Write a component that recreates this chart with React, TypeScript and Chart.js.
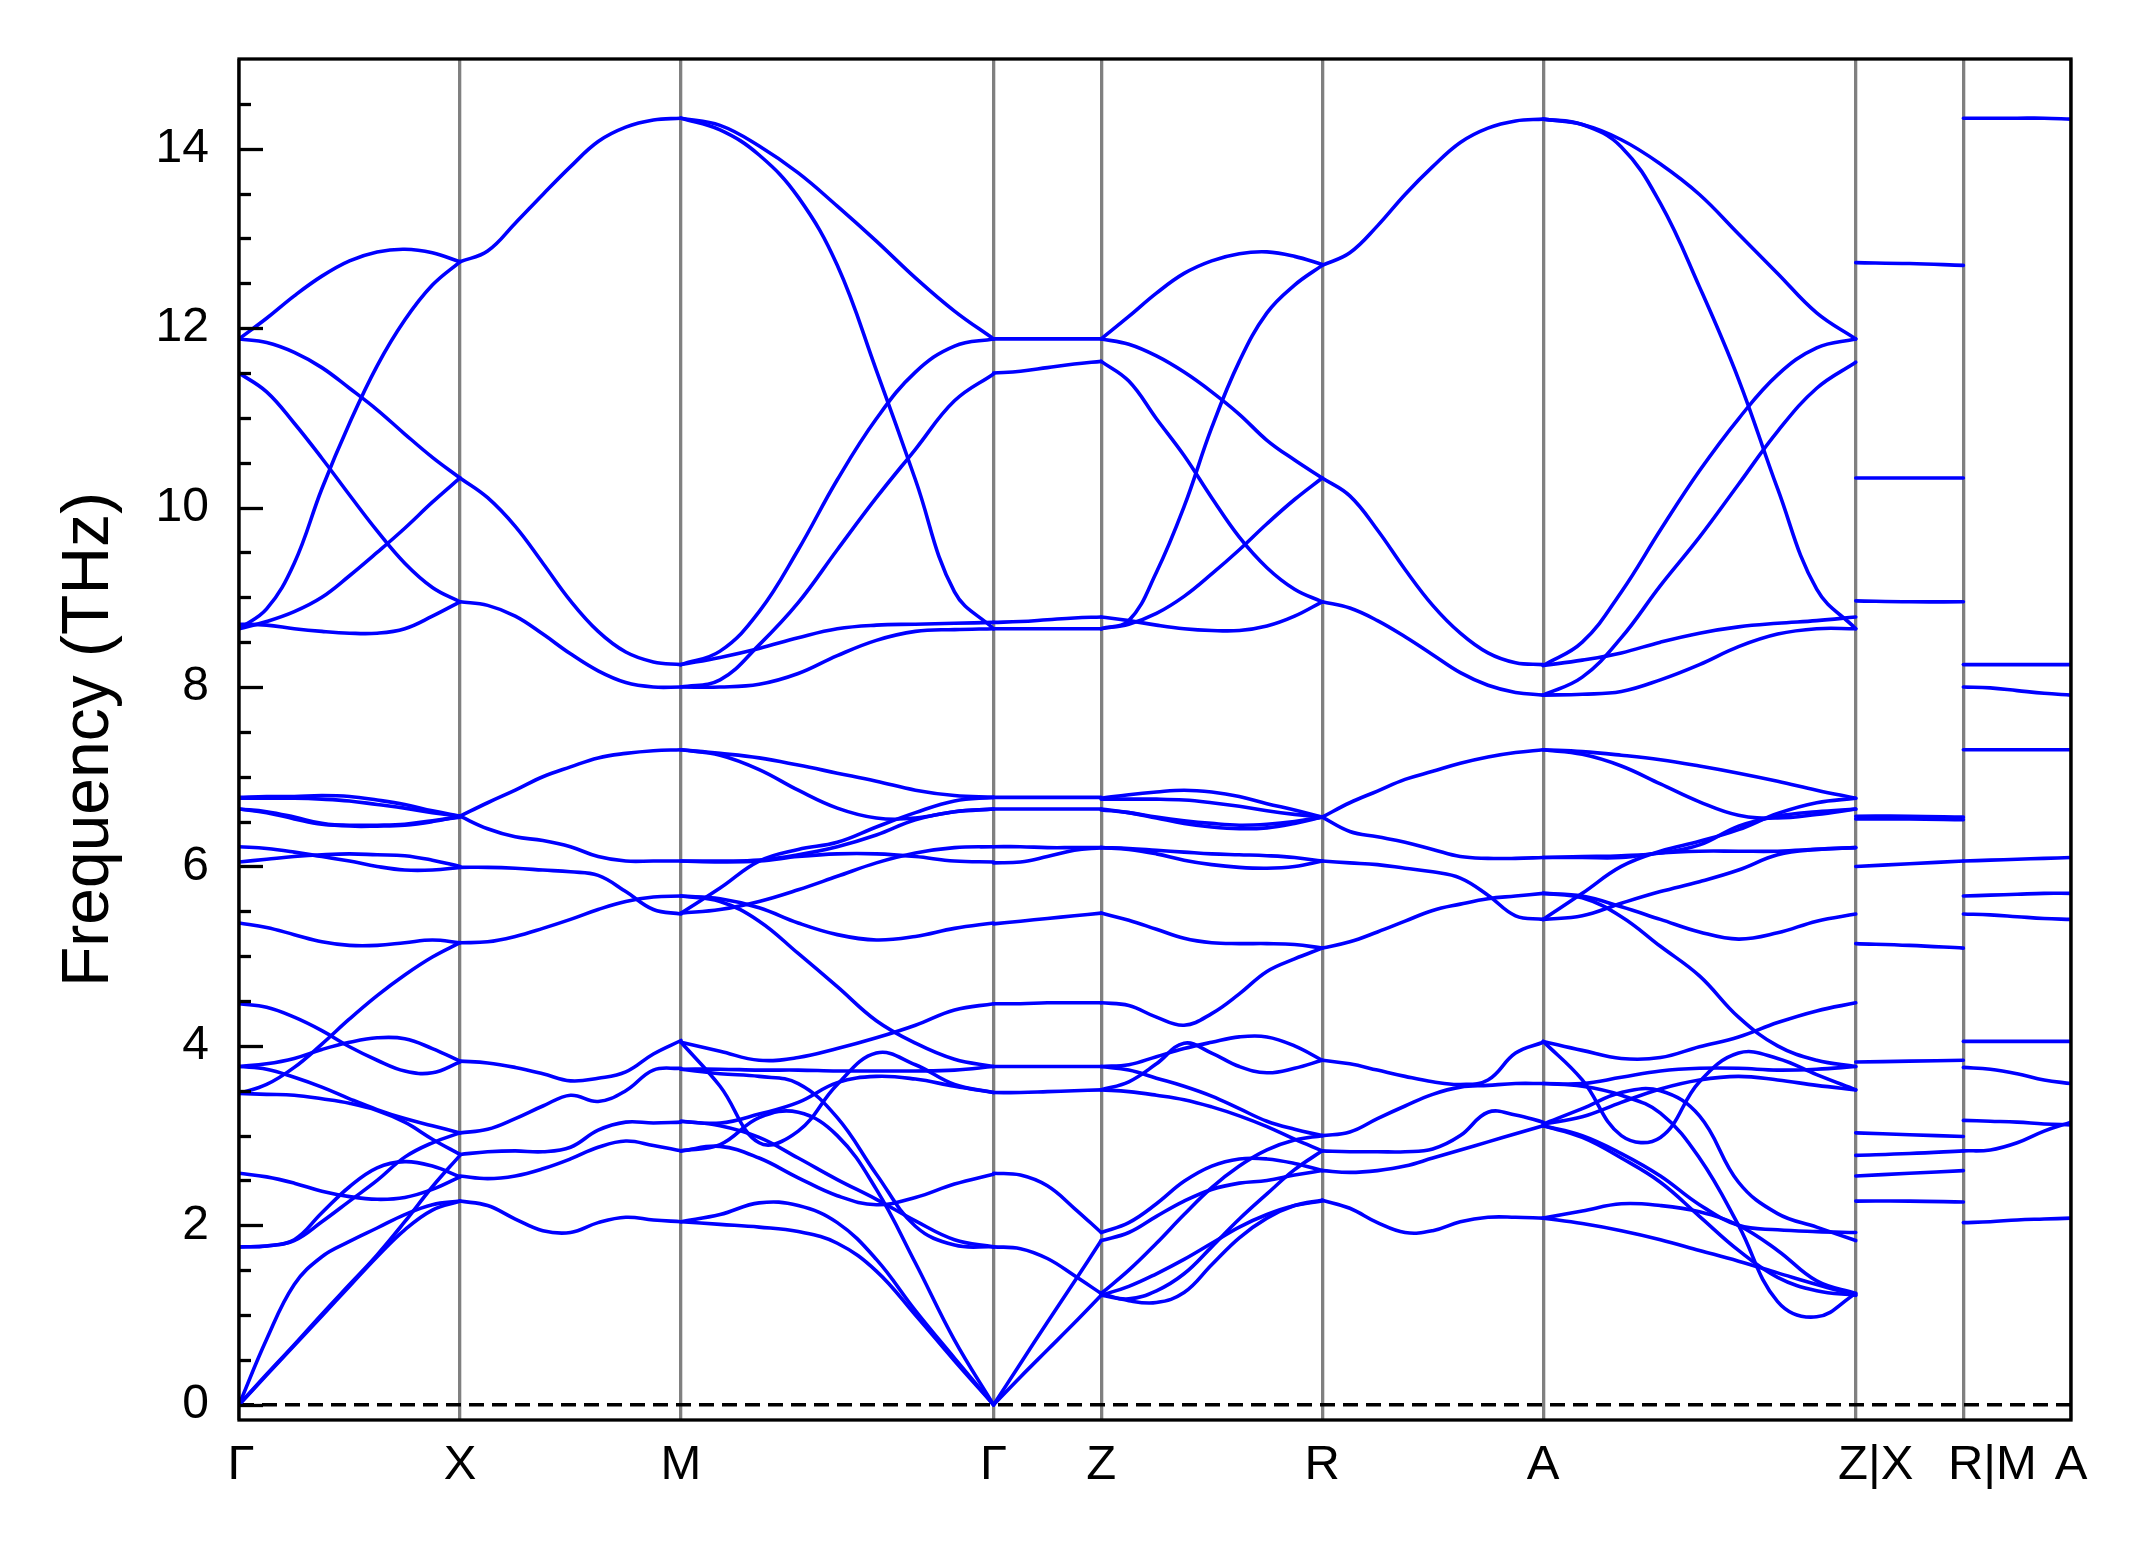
import React, { useEffect, useRef } from 'react';
import { Chart, registerables } from 'chart.js';

Chart.register(...registerables);

// ---------- data ----------
const KPOINT_LABELS = ['Γ', 'X', 'M', 'Γ', 'Z', 'R', 'A', 'Z|X', 'R|M', 'A'];
// path segment lengths (Γ-X, X-M, M-Γ, Γ-Z, Z-R, R-A, A-Z, X-R, M-A)
const SEGMENT_LENGTHS = [1, 1, 1.4142, 0.487, 1, 1, 1.4142, 0.487, 0.487];
const Y_TICKS = [0, 2, 4, 6, 8, 10, 12, 14];
const Y_MIN = -0.17;
const Y_MAX = 15;

// fractional positions along each segment at which frequencies were read
const GRID9 = [0, 0.125, 0.25, 0.375, 0.5, 0.625, 0.75, 0.875, 1];
const GRID5 = [0, 0.25, 0.5, 0.75, 1];
const GRID3 = [0, 0.5, 1];

// frequencies (THz)
const BANDS_GAMMA_X = [
  [11.88, 12.11, 12.36, 12.58, 12.75, 12.85, 12.88, 12.84, 12.74],
  [8.65, 8.87, 9.38, 10.21, 10.94, 11.58, 12.09, 12.48, 12.74],
  [11.88, 11.84, 11.73, 11.56, 11.33, 11.09, 10.82, 10.56, 10.33],
  [11.5, 11.29, 10.94, 10.55, 10.14, 9.74, 9.38, 9.11, 8.95],
  [8.65, 8.73, 8.84, 9.0, 9.24, 9.5, 9.77, 10.06, 10.33],
  [8.7, 8.69, 8.65, 8.62, 8.6, 8.6, 8.65, 8.79, 8.95],
  [6.77, 6.78, 6.78, 6.79, 6.78, 6.74, 6.69, 6.62, 6.56],
  [6.76, 6.76, 6.76, 6.75, 6.73, 6.69, 6.65, 6.6, 6.56],
  [6.64, 6.61, 6.55, 6.48, 6.45, 6.45, 6.46, 6.5, 6.56],
  [6.64, 6.6, 6.53, 6.47, 6.46, 6.46, 6.47, 6.51, 6.55],
  [6.22, 6.2, 6.16, 6.11, 6.06, 6.0, 5.96, 5.96, 5.99],
  [6.05, 6.08, 6.11, 6.13, 6.14, 6.13, 6.12, 6.07, 6.0],
  [5.37, 5.32, 5.24, 5.16, 5.12, 5.12, 5.15, 5.18, 5.15],
  [3.47, 3.57, 3.76, 4.02, 4.3, 4.56, 4.79, 4.99, 5.15],
  [4.47, 4.43, 4.32, 4.17, 3.99, 3.84, 3.72, 3.7, 3.82],
  [3.77, 3.8, 3.86, 3.96, 4.04, 4.09, 4.08, 3.97, 3.83],
  [3.77, 3.74, 3.65, 3.54, 3.41, 3.29, 3.19, 3.11, 3.03],
  [3.47, 3.46, 3.45, 3.41, 3.36, 3.28, 3.15, 2.96, 2.79],
  [2.58, 2.54, 2.47, 2.38, 2.32, 2.29, 2.31, 2.4, 2.54],
  [1.76, 1.77, 1.84, 2.14, 2.43, 2.64, 2.71, 2.66, 2.54],
  [1.76, 1.77, 1.83, 2.04, 2.27, 2.5, 2.76, 2.92, 3.03],
  [0, 0.73, 1.34, 1.65, 1.82, 1.97, 2.12, 2.23, 2.27],
  [0, 0.34, 0.67, 1.01, 1.34, 1.67, 2.04, 2.43, 2.78],
  [0, 0.33, 0.66, 0.99, 1.32, 1.65, 1.95, 2.17, 2.27],
];

const BANDS_X_M = [
  [12.74, 12.86, 13.17, 13.49, 13.8, 14.08, 14.24, 14.32, 14.34],
  [10.33, 10.11, 9.79, 9.38, 8.96, 8.62, 8.39, 8.28, 8.25],
  [8.95, 8.91, 8.79, 8.59, 8.37, 8.18, 8.05, 8.0, 8.0],
  [6.56, 6.71, 6.85, 7.0, 7.11, 7.21, 7.26, 7.29, 7.3],
  [6.56, 6.42, 6.33, 6.29, 6.22, 6.11, 6.06, 6.06, 6.06],
  [5.99, 5.99, 5.98, 5.96, 5.94, 5.9, 5.72, 5.52, 5.47],
  [5.15, 5.16, 5.22, 5.31, 5.41, 5.52, 5.61, 5.66, 5.67],
  [3.83, 3.81, 3.76, 3.69, 3.61, 3.64, 3.71, 3.91, 4.06],
  [3.03, 3.07, 3.19, 3.33, 3.45, 3.38, 3.5, 3.73, 3.75],
  [2.79, 2.82, 2.83, 2.82, 2.87, 3.06, 3.15, 3.14, 3.15],
  [2.55, 2.52, 2.55, 2.63, 2.74, 2.87, 2.94, 2.89, 2.83],
  [2.27, 2.22, 2.07, 1.94, 1.92, 2.03, 2.09, 2.06, 2.04],
];

const BANDS_M_GAMMA = [
  [14.34, 14.26, 14.03, 13.73, 13.36, 12.97, 12.56, 12.19, 11.88],
  [14.34, 14.21, 13.93, 13.46, 12.7, 11.53, 10.31, 9.06, 8.65],
  [8.25, 8.4, 8.84, 9.53, 10.31, 10.99, 11.51, 11.8, 11.88],
  [8.0, 8.08, 8.47, 8.94, 9.53, 10.11, 10.65, 11.19, 11.49],
  [8.25, 8.33, 8.43, 8.55, 8.65, 8.69, 8.7, 8.71, 8.72],
  [8.0, 8.0, 8.03, 8.15, 8.35, 8.52, 8.62, 8.64, 8.65],
  [7.3, 7.26, 7.21, 7.13, 7.04, 6.95, 6.85, 6.79, 6.77],
  [7.3, 7.24, 7.08, 6.85, 6.65, 6.54, 6.54, 6.61, 6.64],
  [5.48, 5.76, 6.06, 6.19, 6.27, 6.44, 6.6, 6.73, 6.77],
  [5.48, 5.52, 5.61, 5.74, 5.89, 6.04, 6.15, 6.21, 6.22],
  [6.06, 6.05, 6.06, 6.11, 6.14, 6.14, 6.11, 6.06, 6.05],
  [6.06, 6.06, 6.07, 6.13, 6.22, 6.35, 6.52, 6.61, 6.64],
  [5.67, 5.64, 5.54, 5.37, 5.24, 5.18, 5.22, 5.31, 5.37],
  [5.67, 5.61, 5.39, 5.03, 4.66, 4.28, 4.03, 3.85, 3.77],
  [4.04, 3.94, 3.84, 3.87, 3.97, 4.09, 4.23, 4.4, 4.47],
  [4.04, 3.55, 2.92, 3.05, 3.57, 3.92, 3.79, 3.57, 3.48],
  [3.74, 3.74, 3.73, 3.73, 3.72, 3.72, 3.72, 3.73, 3.77],
  [3.74, 3.69, 3.66, 3.58, 3.2, 2.57, 1.99, 1.78, 1.76],
  [3.16, 3.11, 2.98, 2.75, 2.51, 2.29, 2.05, 1.84, 1.76],
  [3.16, 3.14, 3.24, 3.37, 3.59, 3.66, 3.63, 3.55, 3.48],
  [2.83, 2.9, 3.2, 3.26, 3.0, 2.4, 1.58, 0.72, 0],
  [2.83, 2.88, 2.75, 2.53, 2.33, 2.23, 2.31, 2.46, 2.57],
  [2.04, 2.12, 2.25, 2.22, 2.03, 1.62, 1.05, 0.52, 0],
  [2.04, 2.01, 1.98, 1.93, 1.8, 1.49, 1.0, 0.49, 0],
];

const BANDS_GAMMA_Z = [
  [11.88, 11.88, 11.88, 11.88, 11.88],
  [11.5, 11.52, 11.56, 11.6, 11.63],
  [8.72, 8.73, 8.75, 8.77, 8.78],
  [8.65, 8.65, 8.65, 8.65, 8.65],
  [6.77, 6.77, 6.77, 6.77, 6.77],
  [6.64, 6.64, 6.64, 6.64, 6.64],
  [6.22, 6.22, 6.21, 6.21, 6.21],
  [6.04, 6.05, 6.11, 6.18, 6.21],
  [5.36, 5.39, 5.42, 5.45, 5.48],
  [4.47, 4.47, 4.48, 4.48, 4.48],
  [3.77, 3.77, 3.77, 3.77, 3.77],
  [3.48, 3.48, 3.49, 3.5, 3.51],
  [2.58, 2.56, 2.44, 2.19, 1.92],
  [1.76, 1.74, 1.63, 1.44, 1.24],
  [0, 0.46, 0.92, 1.37, 1.83],
  [0, 0.31, 0.61, 0.91, 1.22],
];

const BANDS_Z_R = [
  [11.88, 12.13, 12.39, 12.61, 12.75, 12.83, 12.85, 12.8, 12.71],
  [11.88, 11.82, 11.69, 11.51, 11.29, 11.04, 10.75, 10.53, 10.33],
  [11.63, 11.41, 10.99, 10.58, 10.11, 9.67, 9.33, 9.09, 8.95],
  [8.65, 8.74, 9.28, 10.01, 10.89, 11.63, 12.17, 12.48, 12.7],
  [8.65, 8.7, 8.82, 9.01, 9.26, 9.53, 9.82, 10.09, 10.33],
  [8.78, 8.74, 8.69, 8.65, 8.63, 8.63, 8.68, 8.79, 8.95],
  [6.76, 6.8, 6.83, 6.85, 6.83, 6.78, 6.7, 6.63, 6.55],
  [6.75, 6.75, 6.75, 6.74, 6.71, 6.67, 6.62, 6.58, 6.55],
  [6.64, 6.6, 6.54, 6.48, 6.44, 6.42, 6.43, 6.48, 6.55],
  [6.63, 6.6, 6.55, 6.51, 6.48, 6.46, 6.47, 6.5, 6.55],
  [6.21, 6.2, 6.18, 6.16, 6.14, 6.13, 6.12, 6.1, 6.06],
  [6.21, 6.19, 6.14, 6.07, 6.02, 5.99, 5.98, 6.0, 6.06],
  [5.48, 5.4, 5.3, 5.2, 5.15, 5.14, 5.14, 5.13, 5.09],
  [4.48, 4.45, 4.32, 4.23, 4.36, 4.58, 4.83, 4.97, 5.09],
  [3.77, 3.79, 3.88, 3.97, 4.04, 4.1, 4.1, 4.0, 3.84],
  [3.51, 3.6, 3.8, 4.03, 3.92, 3.77, 3.7, 3.75, 3.84],
  [3.77, 3.73, 3.64, 3.55, 3.44, 3.3, 3.16, 3.07, 3.0],
  [3.51, 3.49, 3.45, 3.4, 3.32, 3.22, 3.1, 2.96, 2.83],
  [1.92, 2.03, 2.24, 2.49, 2.66, 2.74, 2.74, 2.69, 2.61],
  [1.83, 1.92, 2.1, 2.27, 2.4, 2.47, 2.5, 2.56, 2.61],
  [1.24, 1.5, 1.8, 2.12, 2.42, 2.66, 2.84, 2.95, 3.0],
  [1.22, 1.32, 1.46, 1.62, 1.8, 1.98, 2.12, 2.22, 2.27],
  [1.24, 1.16, 1.14, 1.25, 1.56, 1.86, 2.08, 2.22, 2.28],
  [1.22, 1.18, 1.27, 1.46, 1.76, 2.07, 2.35, 2.62, 2.83],
];

const BANDS_R_A = [
  [12.7, 12.84, 13.14, 13.49, 13.8, 14.07, 14.23, 14.31, 14.33],
  [10.33, 10.13, 9.75, 9.31, 8.91, 8.6, 8.38, 8.27, 8.25],
  [8.95, 8.88, 8.74, 8.56, 8.36, 8.16, 8.02, 7.94, 7.91],
  [6.55, 6.71, 6.84, 6.97, 7.06, 7.15, 7.22, 7.27, 7.3],
  [6.55, 6.39, 6.33, 6.27, 6.19, 6.11, 6.09, 6.09, 6.1],
  [6.06, 6.04, 6.02, 5.98, 5.94, 5.87, 5.68, 5.45, 5.41],
  [5.09, 5.16, 5.27, 5.39, 5.51, 5.58, 5.64, 5.67, 5.7],
  [3.84, 3.8, 3.73, 3.66, 3.6, 3.57, 3.62, 3.92, 4.04],
  [3.0, 3.04, 3.19, 3.33, 3.46, 3.54, 3.56, 3.58, 3.58],
  [2.83, 2.82, 2.82, 2.82, 2.85, 3.0, 3.26, 3.23, 3.15],
  [2.61, 2.59, 2.61, 2.66, 2.75, 2.84, 2.93, 3.02, 3.11],
  [2.28, 2.19, 2.03, 1.92, 1.94, 2.04, 2.09, 2.09, 2.08],
];

const BANDS_A_Z = [
  [14.33, 14.27, 14.1, 13.83, 13.49, 13.05, 12.61, 12.17, 11.88],
  [14.33, 14.27, 14.02, 13.39, 12.46, 11.43, 10.21, 9.09, 8.65],
  [8.24, 8.5, 9.06, 9.75, 10.41, 10.99, 11.48, 11.78, 11.88],
  [7.91, 8.11, 8.55, 9.13, 9.67, 10.26, 10.85, 11.33, 11.62],
  [8.24, 8.3, 8.38, 8.5, 8.6, 8.67, 8.71, 8.74, 8.78],
  [7.91, 7.92, 7.95, 8.08, 8.25, 8.45, 8.59, 8.65, 8.65],
  [7.3, 7.28, 7.24, 7.19, 7.12, 7.04, 6.95, 6.85, 6.76],
  [7.3, 7.25, 7.12, 6.92, 6.72, 6.57, 6.54, 6.58, 6.64],
  [6.1, 6.1, 6.1, 6.15, 6.17, 6.17, 6.17, 6.19, 6.21],
  [6.1, 6.11, 6.12, 6.15, 6.24, 6.45, 6.56, 6.61, 6.64],
  [5.7, 5.67, 5.55, 5.41, 5.27, 5.19, 5.26, 5.39, 5.47],
  [5.41, 5.7, 6.0, 6.17, 6.28, 6.41, 6.59, 6.71, 6.76],
  [5.41, 5.45, 5.59, 5.72, 5.83, 5.96, 6.13, 6.19, 6.21],
  [5.7, 5.65, 5.44, 5.11, 4.78, 4.32, 4.0, 3.84, 3.77],
  [4.05, 3.95, 3.86, 3.87, 3.99, 4.1, 4.26, 4.39, 4.48],
  [4.05, 3.62, 3.0, 2.98, 3.6, 3.92, 3.86, 3.68, 3.51],
  [3.58, 3.58, 3.65, 3.72, 3.75, 3.75, 3.73, 3.74, 3.77],
  [3.13, 3.21, 3.37, 3.52, 3.62, 3.66, 3.62, 3.56, 3.51],
  [3.13, 3.3, 3.48, 3.5, 3.22, 2.48, 2.13, 1.98, 1.83],
  [3.58, 3.55, 3.45, 3.25, 2.75, 2.0, 1.15, 0.98, 1.24],
  [3.11, 3.0, 2.8, 2.55, 2.23, 2.0, 1.95, 1.93, 1.92],
  [3.11, 2.98, 2.75, 2.48, 2.1, 1.72, 1.42, 1.27, 1.22],
  [2.08, 2.16, 2.24, 2.22, 2.15, 2.0, 1.72, 1.38, 1.24],
  [2.08, 2.02, 1.94, 1.84, 1.72, 1.6, 1.47, 1.34, 1.22],
];

const BANDS_X_R = [
  [12.73, 12.72, 12.7],
  [10.33, 10.33, 10.33],
  [8.96, 8.95, 8.95],
  [6.56, 6.56, 6.55],
  [6.53, 6.53, 6.52],
  [6.0, 6.03, 6.06],
  [5.14, 5.12, 5.09],
  [3.82, 3.83, 3.84],
  [3.03, 3.01, 2.99],
  [2.78, 2.8, 2.83],
  [2.55, 2.58, 2.61],
  [2.27, 2.27, 2.26],
];

const BANDS_M_A = [
  [14.34, 14.34, 14.34, 14.34, 14.33],
  [8.25, 8.25, 8.25, 8.25, 8.25],
  [8.0, 7.99, 7.96, 7.93, 7.91],
  [7.3, 7.3, 7.3, 7.3, 7.3],
  [6.06, 6.07, 6.08, 6.09, 6.1],
  [5.67, 5.68, 5.69, 5.7, 5.7],
  [5.47, 5.46, 5.44, 5.42, 5.41],
  [4.05, 4.05, 4.05, 4.05, 4.05],
  [3.76, 3.74, 3.69, 3.62, 3.58],
  [3.17, 3.16, 3.15, 3.13, 3.12],
  [2.83, 2.84, 2.92, 3.05, 3.15],
  [2.03, 2.04, 2.06, 2.07, 2.08],
];

// ---------- styling ----------
const FONT_FAMILY = '"Liberation Sans", Arial, Helvetica, sans-serif';
const BAND_COLOR = '#0000ff';
const KLINE_COLOR = '#808080';
// horizontal nudge (px) of each k-point label relative to its line
const KLABEL_DX = [2, 0, 0, 0, 0, 0, 0, 20, 29, 0];

const CANVAS_W = 2145;
const CANVAS_H = 1549;

const SEGMENT_TABLE: [number[], number[][]][] = [
  [GRID9, BANDS_GAMMA_X],
  [GRID9, BANDS_X_M],
  [GRID9, BANDS_M_GAMMA],
  [GRID5, BANDS_GAMMA_Z],
  [GRID9, BANDS_Z_R],
  [GRID9, BANDS_R_A],
  [GRID9, BANDS_A_Z],
  [GRID3, BANDS_X_R],
  [GRID5, BANDS_M_A],
];

function buildDatasets() {
  const datasets: any[] = [];
  let start = 0;
  SEGMENT_LENGTHS.forEach((len, i) => {
    const [grid, bands] = SEGMENT_TABLE[i];
    bands.forEach((band) => {
      datasets.push({
        data: grid.map((t, k) => ({ x: start + t * len, y: band[k] })),
        borderColor: BAND_COLOR,
        borderWidth: 3.6,
        pointRadius: 0,
        pointHoverRadius: 0,
        showLine: true,
        fill: false,
        tension: 0.4,
        borderCapStyle: 'round',
        borderJoinStyle: 'round',
      });
    });
    start += len;
  });
  return datasets;
}

function kpointPositions() {
  const pos = [0];
  SEGMENT_LENGTHS.forEach((l) => pos.push(pos[pos.length - 1] + l));
  return pos;
}

const axesPlugin = {
  id: 'bandAxes',
  beforeDatasetsDraw(chart: any) {
    const { ctx, chartArea: a, scales } = chart;
    const y0 = scales.y.getPixelForValue(0);
    ctx.save();
    ctx.strokeStyle = '#000';
    ctx.lineWidth = 3.5;
    ctx.setLineDash([15, 8]);
    ctx.beginPath();
    ctx.moveTo(a.left, y0);
    ctx.lineTo(a.right, y0);
    ctx.stroke();
    ctx.restore();
  },
  afterDraw(chart: any) {
    const { ctx, chartArea: a, scales } = chart;
    ctx.save();
    ctx.strokeStyle = '#000';
    ctx.lineWidth = 3.3;
    ctx.setLineDash([]);
    // inward ticks on the left axis
    for (let v = 0; v <= Y_MAX - 0.25; v += 0.5) {
      const y = Math.round(scales.y.getPixelForValue(v)) + 0.5;
      const major = Y_TICKS.includes(v);
      ctx.beginPath();
      ctx.moveTo(a.left, y);
      ctx.lineTo(a.left + (major ? 24 : 12), y);
      ctx.stroke();
    }
    ctx.strokeRect(a.left, a.top, a.right - a.left, a.bottom - a.top);
    // k-point labels
    ctx.fillStyle = '#000';
    ctx.font = `49px ${FONT_FAMILY}`;
    ctx.textAlign = 'center';
    ctx.textBaseline = 'alphabetic';
    const kpos = kpointPositions();
    kpos.forEach((v, i) => {
      const x = scales.x.getPixelForValue(v) + KLABEL_DX[i];
      ctx.fillText(KPOINT_LABELS[i], x, a.bottom + 59);
    });
    ctx.restore();
  },
};

export default function App() {
  const canvasRef = useRef<HTMLCanvasElement | null>(null);

  useEffect(() => {
    if (!canvasRef.current) return;
    const kpos = kpointPositions();
    const total = kpos[kpos.length - 1];
    const chart = new Chart(canvasRef.current, {
      type: 'scatter',
      data: { datasets: buildDatasets() },
      options: {
        responsive: false,
        animation: false,
        devicePixelRatio: 1,
        events: [],
        layout: { padding: { left: 0, right: 74, top: 59, bottom: 0 } },
        plugins: { legend: { display: false }, tooltip: { enabled: false } },
        scales: {
          x: {
            type: 'linear',
            min: 0,
            max: total,
            afterBuildTicks: (axis: any) => {
              axis.ticks = kpos.map((v) => ({ value: v }));
            },
            afterFit: (axis: any) => {
              axis.height = 129;
            },
            grid: { color: KLINE_COLOR, lineWidth: 3.3, drawTicks: false },
            border: { display: false },
            ticks: { display: false },
          },
          y: {
            type: 'linear',
            min: Y_MIN,
            max: Y_MAX,
            afterBuildTicks: (axis: any) => {
              axis.ticks = Y_TICKS.map((v) => ({ value: v }));
            },
            afterFit: (axis: any) => {
              axis.width = 239;
            },
            grid: { display: false, drawTicks: false },
            border: { display: false },
            ticks: {
              padding: 30,
              color: '#000',
              font: { family: FONT_FAMILY, size: 48 },
              callback: (v: any) => String(v),
            },
            title: {
              display: true,
              text: 'Frequency (THz)',
              color: '#000',
              font: { family: FONT_FAMILY, size: 66 },
              padding: { top: 50, bottom: 0 },
            },
          },
        },
      },
      plugins: [axesPlugin],
    });
    return () => chart.destroy();
  }, []);

  return (
    <div style={{ position: 'fixed', left: 0, top: 0, width: CANVAS_W, height: CANVAS_H, background: '#fff' }}>
      <canvas
        ref={canvasRef}
        width={CANVAS_W}
        height={CANVAS_H}
        style={{ display: 'block', width: CANVAS_W, height: CANVAS_H }}
      />
    </div>
  );
}
